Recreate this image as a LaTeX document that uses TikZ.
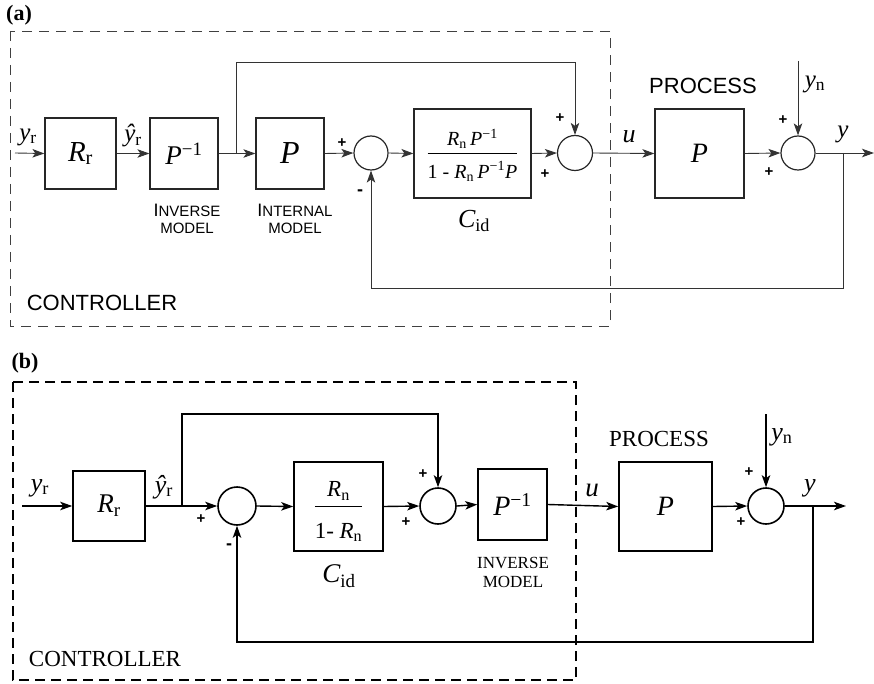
\documentclass[tikz,border=0pt]{standalone}
\usepackage{fontspec}
\setmainfont{Liberation Serif}
\newfontfamily\hlv{Liberation Sans}
\usetikzlibrary{arrows.meta}
\newcommand{\ivar}[1]{{\itshape #1}}
\newcommand{\fsz}[1]{\fontsize{#1}{#1}\selectfont}
\newcommand{\lsub}[1]{\textsubscript{\upshape #1}}
\newcommand{\lsup}[1]{\textsuperscript{\upshape #1}}
\begin{document}
\begin{tikzpicture}[x=1pt,y=-1pt,
  arr/.style={-{Stealth[length=12pt,width=8.5pt,inset=3pt]}},
  alin/.style={line width=0.9pt, draw=black!80},
  blin/.style={line width=1.4pt, draw=black},
  ablk/.style={draw=black!85, line width=1.2pt, inner sep=0pt},
  bblk/.style={draw=black, line width=1.6pt, inner sep=0pt},
  asum/.style={draw=black!85, line width=1.2pt, circle, inner sep=0pt},
  bsum/.style={draw=black, line width=1.6pt, circle, inner sep=0pt},
  asgn/.style={font=\hlv\bfseries\fsz{15}, inner sep=0pt},
  bsgn/.style={font=\hlv\bfseries\fsz{15}, inner sep=0pt},
  lbl/.style={inner sep=0pt},
]
\useasboundingbox (0,0) rectangle (874,684);

% ================= Panel (a) =================
\node[lbl, font=\bfseries\fsz{22}] (alab) at (19,15.5) {(a)};
\draw[line width=0.9pt, draw=black!75, dash pattern=on 10pt off 7pt] (10,31) rectangle (610,326);

\node[ablk, minimum width=71pt, minimum height=71pt, font=\fsz{29}] (aRr) at (80.5,153.5) {\ivar{R}\lsub{r}};
\node[ablk, minimum width=68pt, minimum height=71pt, font=\fsz{27}] (aPinv) at (184,153.5) {\ivar{P}\lsup{−1}};
\node[ablk, minimum width=68pt, minimum height=71pt, font=\fsz{32}] (aP) at (290,153.5) {\ivar{P}};
\node[asum, minimum size=34pt] (aS1) at (371,153) {};
\node[ablk, minimum width=117pt, minimum height=89pt] (aC) at (472.5,153.5)
 {\fontsize{20}{24}\selectfont\setlength{\arrayrulewidth}{1.2pt}%
  \begin{tabular}{@{}c@{}}\rule{0pt}{24pt}\ivar{R}\lsub{n}\,\ivar{P}\lsup{−1}\\\hline
  \rule{0pt}{24pt}1 - \ivar{R}\lsub{n}\,\ivar{P}\lsup{−1}\ivar{P}\end{tabular}};
\node[asum, minimum size=35pt] (aS2) at (575,153) {};
\node[ablk, minimum width=89pt, minimum height=89pt, font=\fsz{28}] (aProc) at (699.5,153.5) {\ivar{P}};
\node[asum, minimum size=34pt] (aS3) at (798,153) {};

\coordinate (aIn) at (15,153);
\coordinate (aB1) at (236,153);
\coordinate (aTop) at (236,62);
\coordinate (aYn) at (798,61);
\coordinate (aB2) at (843,153);
\coordinate (aFb) at (843,288);
\coordinate (aOut) at (874,153);

\draw[alin, arr] (aIn) -- (aRr.west);
\draw[alin, arr] (aRr.east) -- (aPinv.west);
\draw[alin, arr] (aPinv.east) -- (aP.west);
\draw[alin, arr] (aP.east) -- (aS1.west);
\draw[alin, arr] (aS1.east) -- (aC.west);
\draw[alin, arr] (aC.east) -- (aS2.west);
\draw[alin, arr] (aS2.east) -- (aProc.west);
\draw[alin, arr] (aProc.east) -- (aS3.west);
\draw[alin, arr] (aS3.east) -- (aOut);
\draw[alin, arr] (aB1) -- (aTop) -| (aS2.north);
\draw[alin, arr] (aYn) -- (aS3.north);
\draw[alin, arr] (aB2) -- (aFb) -| (aS1.south);

\node[lbl, font=\fsz{25}] (ayr) at (28,137) {\ivar{y}\lsub{r}};
\node[lbl, font=\fsz{25}] (ayhr) at (133,136) {\ivar{ŷ}\lsub{r}};
\node[lbl, font=\hlv\fontsize{15}{17.5}\selectfont, align=center] (ainvl) at (187,219)
 {{\fsz{18}I}NVERSE\\MODEL};
\node[lbl, font=\hlv\fontsize{15}{17.5}\selectfont, align=center] (aintl) at (295,219)
 {{\fsz{18}I}NTERNAL\\MODEL};
\node[lbl, font=\fsz{26}] (aCid) at (474,221) {\ivar{C}\lsub{id}};
\node[lbl, font=\fsz{26}] (au) at (629,137) {\ivar{u}};
\node[lbl, font=\hlv\fsz{22}] (aproclab) at (703,86) {PROCESS};
\node[lbl, font=\fsz{25}] (ayn) at (815,84) {\ivar{y}\lsub{n}};
\node[lbl, font=\fsz{25}] (ay) at (843,134) {\ivar{y}};
\node[lbl, font=\hlv\fsz{22}] (actrl) at (102,303) {CONTROLLER};

\node[asgn] (ap1) at (342,143) {+};
\node[asgn, font=\hlv\bfseries\fsz{18}] (am1) at (360,193) {-};
\node[asgn] (ap2) at (560,118) {+};
\node[asgn] (ap3) at (545,174) {+};
\node[asgn] (ap4) at (783,120) {+};
\node[asgn] (ap5) at (769,172) {+};

% ================= Panel (b) =================
\node[lbl, font=\bfseries\fsz{22}] (blab) at (25,363) {(b)};
\draw[line width=1.5pt, draw=black, dash pattern=on 10pt off 6pt] (13,382) rectangle (576,680);

\node[bblk, minimum width=72pt, minimum height=70pt, font=\fsz{27}] (bRr) at (109,506) {\ivar{R}\lsub{r}};
\node[bsum, minimum size=38pt] (bS1) at (237,506) {};
\node[bblk, minimum width=89pt, minimum height=89pt] (bC) at (338.5,506.5)
 {\fontsize{23}{30}\selectfont\setlength{\arrayrulewidth}{1.3pt}%
  \begin{tabular}{@{}c@{}}\rule{0pt}{31pt}\ivar{R}\lsub{n}\\\hline
  \rule{0pt}{31pt}1- \ivar{R}\lsub{n}\end{tabular}};
\node[bsum, minimum size=36pt] (bS2) at (438,506) {};
\node[bblk, minimum width=69pt, minimum height=71pt, font=\fsz{28}] (bPinv) at (512.5,504.5) {\ivar{P}\lsup{−1}};
\node[bblk, minimum width=93pt, minimum height=89pt, font=\fsz{28}] (bProc) at (665.5,506.5) {\ivar{P}};
\node[bsum, minimum size=36pt] (bS3) at (766,506) {};

\coordinate (bIn) at (22,506);
\coordinate (bB1) at (182,506);
\coordinate (bTop) at (182,414);
\coordinate (bYn) at (766,414);
\coordinate (bB2) at (813,506);
\coordinate (bFb) at (813,642);
\coordinate (bOut) at (846,506);

\draw[blin, arr] (bIn) -- (bRr.west);
\draw[blin, arr] (bRr.east) -- (bS1.west);
\draw[blin, arr] (bS1.east) -- (bC.west);
\draw[blin, arr] (bC.east) -- (bS2.west);
\draw[blin, arr] (bS2.east) -- (bPinv.west);
\draw[blin, arr] (bPinv.east) -- (bProc.west);
\draw[blin, arr] (bProc.east) -- (bS3.west);
\draw[blin, arr] (bS3.east) -- (bOut);
\draw[blin, arr] (bB1) -- (bTop) -| (bS2.north);
\draw[blin, arr] (bYn) -- (bS3.north);
\draw[blin, arr] (bB2) -- (bFb) -| (bS1.south);

\node[lbl, font=\fsz{26}] (byr) at (40,488) {\ivar{y}\lsub{r}};
\node[lbl, font=\fsz{26}] (byhr) at (164,487) {\ivar{ŷ}\lsub{r}};
\node[lbl, font=\fsz{27}] (bCid) at (339,576) {\ivar{C}\lsub{id}};
\node[lbl, font=\fontsize{17}{19}\selectfont, align=center] (binvl) at (513,572)
 {INVERSE\\MODEL};
\node[lbl, font=\fsz{27}] (bu) at (592,490) {\ivar{u}};
\node[lbl, font=\fsz{23}] (bproclab) at (659,439) {PROCESS};
\node[lbl, font=\fsz{26}] (byn) at (782,437) {\ivar{y}\lsub{n}};
\node[lbl, font=\fsz{26}] (by) at (810,488) {\ivar{y}};
\node[lbl, font=\fsz{23}] (bctrl) at (105,659) {CONTROLLER};

\node[bsgn] (bp1) at (201,519) {+};
\node[bsgn, font=\hlv\bfseries\fsz{18}] (bm1) at (229,547) {-};
\node[bsgn] (bp2) at (423,474) {+};
\node[bsgn] (bp3) at (406,522) {+};
\node[bsgn] (bp4) at (749,472) {+};
\node[bsgn] (bp5) at (741,522) {+};
\end{tikzpicture}
\end{document}
